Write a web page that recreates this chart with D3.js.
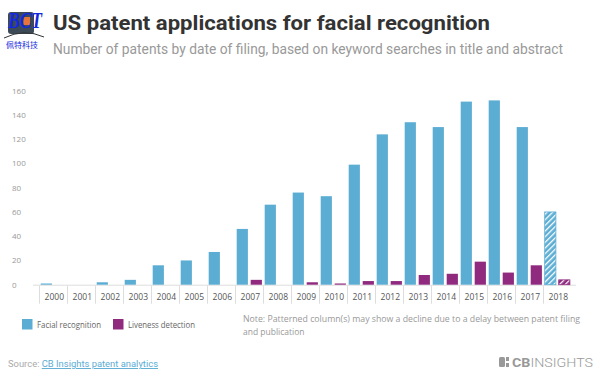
<!DOCTYPE html>
<html>
<head>
<meta charset="utf-8">
<script src="https://cdn.jsdelivr.net/npm/d3@7"></script>
<style>
  body { margin: 0; background: #fff; }
  svg { display: block; }
</style>
</head>
<body>
<div id="main"></div>
<script>
var years = ['2000', '2001', '2002', '2003', '2004', '2005', '2006', '2007', '2008', '2009',
  '2010', '2011', '2012', '2013', '2014', '2015', '2016', '2017', '2018'];
var facial = [1, 0, 2, 4, 16, 20, 27, 46, 66, 76, 73, 99, 124, 134, 130, 151, 152, 130, 60];
var liveness = [0, 0, 0, 0, 0, 0, 0, 4, 0, 2, 1, 3, 3, 8, 9, 19, 10, 16, 4];
var yTicks = [0, 20, 40, 60, 80, 100, 120, 140, 160];
var seriesNames = ['Facial recognition', 'Liveness detection'];
var partialYears = ['2018'];

var width = 600, height = 379;
var blue = '#5cadd3', purple = '#8f2a7f';

var svg = d3.select('#main')
  .append('svg')
  .attr('width', width)
  .attr('height', height);

var defs = svg.append('defs');
function hatch(id, color) {
  var p = defs.append('pattern')
    .attr('id', id)
    .attr('patternUnits', 'userSpaceOnUse')
    .attr('width', 4).attr('height', 4)
    .attr('patternTransform', 'rotate(45)');
  p.append('rect').attr('width', 4).attr('height', 4).attr('fill', color);
  p.append('rect').attr('width', 1.3).attr('height', 4).attr('fill', '#fff');
}
hatch('hatchBlue', blue);
hatch('hatchPurple', purple);

// watermark / icon top-left
svg.append('rect').attr('x', 8).attr('y', 12).attr('width', 26).attr('height', 22)
  .attr('rx', 3).attr('fill', '#3c4a57');
svg.append('rect').attr('x', 22).attr('y', 17).attr('width', 8).attr('height', 8).attr('fill', '#e8743b');
svg.append('path').attr('d', 'M4,38 Q24,28 44,37').attr('fill', 'none')
  .attr('stroke', '#333').attr('stroke-width', 1);
svg.append('text').attr('x', 8).attr('y', 28)
  .style('font-family', 'Liberation Serif').style('font-weight', 'bold').attr('fill', '#1428e0')
  .style('font-style', 'italic').style('font-size', '24px').text('BCT')
  .attr('textLength', 34).attr('lengthAdjust', 'spacingAndGlyphs');
svg.append('text').attr('x', 6).attr('y', 48)
  .style('font-family', 'Noto Sans CJK SC').style('font-size', '8px')
  .attr('fill', '#1428e0').text('佩特科技');

// titles
var title = svg.append('text').attr('x', 53).attr('y', 30)
  .style('font-family', 'Roboto').style('font-weight', 'bold').style('font-size', '21px')
  .attr('fill', '#333').text('US patent applications for facial recognition');
title.attr('textLength', 437).attr('lengthAdjust', 'spacingAndGlyphs');

svg.append('text').attr('x', 53).attr('y', 54)
  .style('font-family', 'Roboto').style('font-size', '14.5px')
  .attr('fill', '#999').text('Number of patents by date of filing, based on keyword searches in title and abstract')
  .attr('textLength', 510).attr('lengthAdjust', 'spacingAndGlyphs');

// scales
var x0 = d3.scaleBand().domain(years).range([39.3, 571.3]).paddingInner(0).paddingOuter(0);
var x1 = d3.scaleBand().domain(seriesNames).range([0, x0.bandwidth()])
  .paddingInner(0.2).paddingOuter(0.1);
var y = d3.scaleLinear().domain([0, 160]).range([284.7, 90.7]);

// y tick labels
svg.selectAll('.ytick').data(yTicks).enter().append('text')
  .attr('x', 12).attr('y', function(d) { return y(d) + 3; })
  .style('font-family', 'Open Sans').style('font-size', '8px')
  .attr('fill', '#999').text(function(d) { return d; });

// baseline and separators
svg.append('line').attr('x1', 33).attr('x2', 576).attr('y1', y(0) + 0.5).attr('y2', y(0) + 0.5)
  .attr('stroke', '#ddd').attr('stroke-width', 1);
svg.selectAll('.sep').data(years).enter().append('line')
  .attr('x1', function(d) { return Math.round(x0(d)) + 0.5; })
  .attr('x2', function(d) { return Math.round(x0(d)) + 0.5; })
  .attr('y1', y(0) + 1).attr('y2', y(0) + 19)
  .attr('stroke', '#ddd').attr('stroke-width', 1);

svg.selectAll('.xlab').data(years).enter().append('text')
  .attr('x', function(d) { return x0(d) + x0.bandwidth() / 2 + 1; })
  .attr('y', 300)
  .attr('text-anchor', 'middle')
  .style('font-family', 'Open Sans').style('font-size', '8.5px')
  .attr('fill', '#555').text(function(d) { return d; });

// bars
var rows = years.map(function(yr, i) {
  return { year: yr, values: [facial[i], liveness[i]] };
});
var groups = svg.selectAll('.grp').data(rows).enter().append('g')
  .attr('transform', function(d) { return 'translate(' + x0(d.year) + ',0)'; });

groups.selectAll('rect')
  .data(function(d) {
    return d.values.map(function(v, j) {
      return { name: seriesNames[j], value: v, partial: partialYears.indexOf(d.year) >= 0 };
    });
  })
  .enter().append('rect')
  .attr('x', function(d) { return x1(d.name); })
  .attr('width', x1.bandwidth())
  .attr('y', function(d) { return y(d.value); })
  .attr('height', function(d) { return y(0) - y(d.value); })
  .attr('fill', function(d) {
    var j = seriesNames.indexOf(d.name);
    if (d.partial) return j === 0 ? 'url(#hatchBlue)' : 'url(#hatchPurple)';
    return j === 0 ? blue : purple;
  })
  .attr('stroke', function(d) {
    if (!d.partial) return 'none';
    return seriesNames.indexOf(d.name) === 0 ? blue : purple;
  })
  .attr('stroke-width', 0.8);

// legend
var legend = svg.selectAll('.leg').data(seriesNames).enter().append('g')
  .attr('transform', function(d, i) { return 'translate(' + [22, 113][i] + ',319)'; });
legend.append('rect').attr('width', 10.5).attr('height', 10.5)
  .attr('fill', function(d, i) { return i === 0 ? blue : purple; });
legend.append('text').attr('x', 15).attr('y', 8.5)
  .style('font-family', 'Open Sans').style('font-size', '8.5px')
  .attr('fill', '#666').text(function(d) { return d; })
  .attr('textLength', function(d, i) { return [64, 67][i]; })
  .attr('lengthAdjust', 'spacingAndGlyphs');

// note
svg.append('text').attr('x', 243).attr('y', 322)
  .style('font-family', 'Open Sans').style('font-size', '8.5px').attr('fill', '#999')
  .text('Note: Patterned column(s) may show a decline due to a delay between patent filing')
  .attr('textLength', 337).attr('lengthAdjust', 'spacingAndGlyphs');
svg.append('text').attr('x', 243).attr('y', 335)
  .style('font-family', 'Open Sans').style('font-size', '8.5px').attr('fill', '#999')
  .text('and publication');

// source
var src = svg.append('text').attr('x', 8).attr('y', 367)
  .style('font-family', 'Roboto').style('font-size', '9.5px');
src.append('tspan').attr('fill', '#aaa').text('Source: ');
src.append('tspan').attr('fill', '#5cadd3').style('text-decoration', 'underline')
  .text('CB Insights patent analytics');
src.attr('textLength', 150).attr('lengthAdjust', 'spacingAndGlyphs');

// CB Insights logo
var logo = svg.append('g').attr('transform', 'translate(499,357)');
logo.append('rect').attr('width', 6).attr('height', 10).attr('rx', 1.5).attr('fill', '#999');
logo.append('rect').attr('x', 7).attr('width', 3).attr('height', 4).attr('fill', '#999');
logo.append('rect').attr('x', 7).attr('y', 6).attr('width', 3).attr('height', 4).attr('fill', '#999');
var lt = logo.append('text').attr('x', 13).attr('y', 10)
  .style('font-family', 'Roboto').style('font-size', '13.5px').attr('fill', '#999');
lt.append('tspan').style('font-weight', 'bold').text('CB');
lt.append('tspan').style('font-weight', '300').text('INSIGHTS');
lt.attr('textLength', 81).attr('lengthAdjust', 'spacingAndGlyphs');
</script>
</body>
</html>
